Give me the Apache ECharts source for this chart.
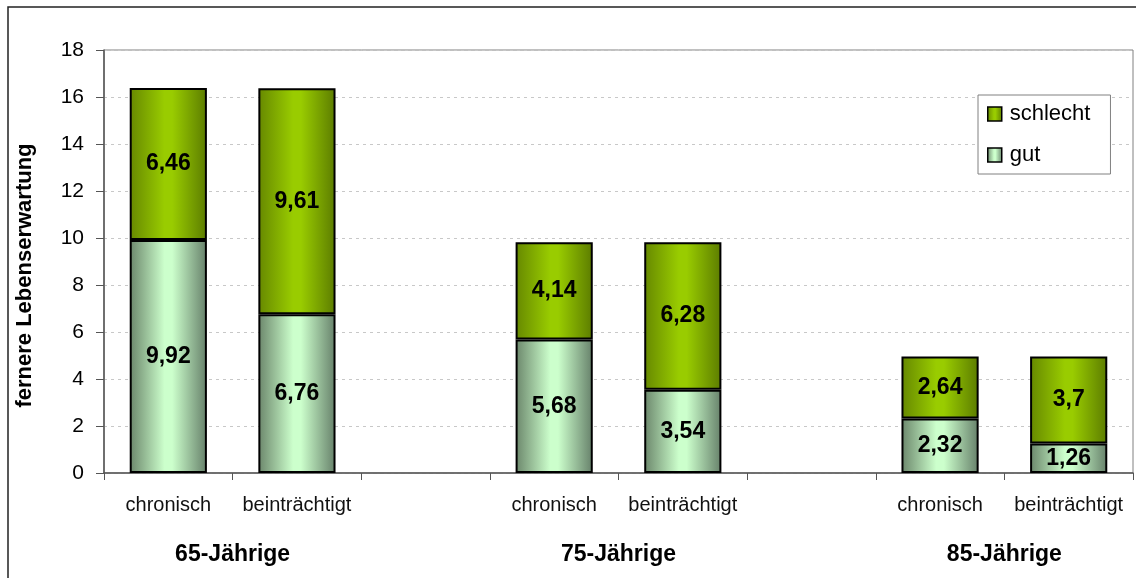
<!DOCTYPE html>
<html>
<head>
<meta charset="utf-8">
<script src="https://cdn.jsdelivr.net/npm/echarts@6/dist/echarts.min.js"></script>
<style>
  html, body { margin: 0; padding: 0; background: #fff; }
  #chart { width: 1136px; height: 578px; }
</style>
</head>
<body>
<div id="chart"></div>
<script>
// Kategorien (leere Einträge = Abstand zwischen den Altersgruppen)
var categories = ["chronisch", "beinträchtigt", "", "chronisch", "beinträchtigt", "", "chronisch", "beinträchtigt"];
var groupLabels = ["65-Jährige", "75-Jährige", "85-Jährige"];
var gut = [9.92, 6.76, null, 5.68, 3.54, null, 2.32, 1.26];
var schlecht = [6.46, 9.61, null, 4.14, 6.28, null, 2.64, 3.7];

var font = "'Liberation Sans', Arial, sans-serif";

function grad(edgeL, mid, edgeR) {
  return new echarts.graphic.LinearGradient(0, 0, 1, 0, [
    { offset: 0, color: edgeL },
    { offset: 0.45, color: mid },
    { offset: 0.55, color: mid },
    { offset: 1, color: edgeR }
  ]);
}

var labelCfg = {
  show: true,
  position: "inside",
  color: "#000",
  fontFamily: font,
  fontWeight: "bold",
  fontSize: 23,
  formatter: function (p) {
    return p.value == null ? "" : String(p.value).replace(".", ",");
  }
};

var chart = echarts.init(document.getElementById("chart"));
chart.setOption({
  animation: false,
  textStyle: { fontFamily: font },
  graphic: [{
    type: "rect",
    shape: { x: 8, y: 7, width: 1140, height: 600 },
    style: { fill: "none", stroke: "#222", lineWidth: 1.5 },
    silent: true
  }],
  grid: {
    left: 104, right: 3, top: 50, bottom: 105,
    show: true, borderColor: "#808080", borderWidth: 1, backgroundColor: "transparent"
  },
  legend: {
    orient: "vertical",
    left: 978, top: 95,
    data: ["schlecht", "gut"],
    icon: "rect",
    itemWidth: 14, itemHeight: 14, itemGap: 19,
    padding: [8, 20, 8, 9],
    borderColor: "#808080", borderWidth: 1,
    backgroundColor: "#fff",
    itemStyle: { borderColor: "#000", borderWidth: 1.5 },
    textStyle: { fontFamily: font, fontSize: 22, color: "#000", lineHeight: 22, padding: [0, 0, 0, 3] }
  },
  xAxis: [{
    type: "category",
    data: categories,
    axisLine: { lineStyle: { color: "#555", width: 1.5 } },
    axisTick: { show: true, interval: 0, length: 7, lineStyle: { color: "#555" } },
    axisLabel: { interval: 0, margin: 22, color: "#111", fontSize: 20, fontFamily: font }
  }, {
    type: "value",
    position: "bottom",
    min: 0, max: categories.length, interval: 1,
    axisLine: { show: false },
    axisTick: { show: false },
    splitLine: { show: false },
    axisLabel: {
      margin: 70, color: "#000", fontSize: 23, fontWeight: "bold", fontFamily: font,
      formatter: function (v) {
        return v % 3 === 1 ? groupLabels[(v - 1) / 3] : "";
      }
    }
  }],
  yAxis: {
    type: "value",
    min: 0, max: 18, interval: 2,
    name: "fernere Lebenserwartung",
    nameLocation: "middle",
    nameGap: 68,
    nameTextStyle: { fontSize: 22, fontWeight: "bold", color: "#000", fontFamily: font, padding: [0, 28, 0, 0] },
    axisLine: { show: true, lineStyle: { color: "#555", width: 1.5 } },
    axisTick: { show: true, length: 8, lineStyle: { color: "#555" } },
    axisLabel: { margin: 20, color: "#000", fontSize: 21, fontFamily: font },
    splitLine: { lineStyle: { color: "#c8c8c8", type: [3, 4] } }
  },
  series: [{
    name: "gut",
    type: "bar",
    stack: "total",
    barWidth: "60%",
    data: gut,
    itemStyle: { color: grad("#6b866b", "#ccffcc", "#66806a"), borderColor: "#000", borderWidth: 2 },
    label: labelCfg
  }, {
    name: "schlecht",
    type: "bar",
    stack: "total",
    barWidth: "60%",
    data: schlecht,
    itemStyle: { color: grad("#668800", "#99cc00", "#5c7c00"), borderColor: "#000", borderWidth: 2 },
    label: labelCfg
  }]
});
</script>
</body>
</html>
